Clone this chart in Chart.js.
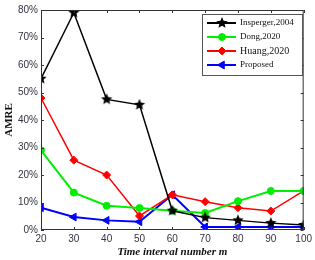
<!DOCTYPE html>
<html lang="en">
<head>
  <meta charset="utf-8" />
  <title>AMRE vs time interval number</title>
  <script src="https://cdn.jsdelivr.net/npm/chart.js@4.4.0/dist/chart.umd.min.js"></script>
  <style>
    html, body { margin: 0; padding: 0; background: #fff; }
    #wrap { width: 315px; height: 260px; }
  </style>
</head>
<body>
  <div id="wrap"><canvas id="chart"></canvas></div>
  <script>
    // values (AMRE in %)
    const intervals = [20, 30, 40, 50, 60, 70, 80, 90, 100];
    const insperger = [55, 79, 47.5, 45.5, 7, 4.5, 3.5, 2.5, 1.8];
    const dong      = [29, 13.6, 8.8, 8, 7, 6.2, 10.5, 14.2, 14.2];
    const huang     = [48, 25.4, 20, 5.1, 12.8, 10.3, 8.1, 6.9, 14.2];
    const proposed  = [8.1, 4.7, 3.5, 3, 12.8, 1.1, 1.1, 1.1, 1.1];
    const seriesNames = ["Insperger,2004", "Dong,2020", "Huang,2020", "Proposed"];
    const yTicks = [0, 10, 20, 30, 40, 50, 60, 70, 80];

    // filled five point star for the black series
    function makeStar(r, color) {
      const c = document.createElement('canvas');
      c.width = c.height = r * 2 + 2;
      const g = c.getContext('2d');
      g.fillStyle = color;
      g.beginPath();
      for (let i = 0; i < 10; i++) {
        const rad = i % 2 === 0 ? r : r * 0.45;
        const a = -Math.PI / 2 + i * Math.PI / 5;
        const px = r + 1 + rad * Math.cos(a), py = r + 1 + rad * Math.sin(a);
        if (i === 0) g.moveTo(px, py); else g.lineTo(px, py);
      }
      g.closePath();
      g.fill();
      return c;
    }
    const starImg = makeStar(6, '#000');

    const serif = "'Liberation Serif', 'Times New Roman', serif";
    const sans = "'Liberation Sans', Arial, sans-serif";

    function series(label, data, color, style, radius, width, rot) {
      return {
        label: label, data: data, borderColor: color, backgroundColor: color,
        borderWidth: width, pointStyle: style, pointRadius: radius,
        pointRotation: rot || 0, pointBorderColor: color, pointBackgroundColor: color,
        pointBorderWidth: 1, tension: 0
      };
    }

    // frame with inward ticks on all four sides + legend box inside the plot
    const framePlugin = {
      id: 'frame',
      afterDraw(chart) {
        const a = chart.chartArea, ctx = chart.ctx;
        const xs = chart.scales.x, ys = chart.scales.y;
        ctx.save();
        ctx.strokeStyle = '#333';
        ctx.lineWidth = 1;
        ctx.strokeRect(a.left + 0.5, a.top + 0.5, a.right - a.left - 1, a.bottom - a.top - 1);
        ctx.beginPath();
        intervals.forEach(v => {
          const px = Math.round(xs.getPixelForValue(v)) + 0.5;
          ctx.moveTo(px, a.bottom); ctx.lineTo(px, a.bottom - 3);
          ctx.moveTo(px, a.top); ctx.lineTo(px, a.top + 3);
        });
        yTicks.forEach(v => {
          const py = Math.round(ys.getPixelForValue(v)) + 0.5;
          ctx.moveTo(a.left, py); ctx.lineTo(a.left + 3, py);
          ctx.moveTo(a.right, py); ctx.lineTo(a.right - 3, py);
        });
        ctx.stroke();

        const bx = 202.5, by = 14.5, bw = 100, bh = 61;
        ctx.fillStyle = '#fff';
        ctx.fillRect(bx, by, bw, bh);
        ctx.strokeStyle = '#555';
        ctx.strokeRect(bx, by, bw, bh);
        const rows = [23, 37, 51, 65];
        chart.data.datasets.forEach((ds, i) => {
          const y = rows[i];
          ctx.strokeStyle = ds.borderColor;
          ctx.fillStyle = ds.backgroundColor;
          ctx.lineWidth = 2;
          ctx.beginPath();
          ctx.moveTo(207, y); ctx.lineTo(236, y);
          ctx.stroke();
          if (ds.pointStyle instanceof HTMLCanvasElement) {
            ctx.drawImage(ds.pointStyle, 222 - ds.pointStyle.width / 2, y - ds.pointStyle.height / 2);
          } else {
            ctx.lineWidth = 1;
            Chart.helpers.drawPoint(ctx, {
              pointStyle: ds.pointStyle, radius: ds.pointRadius, rotation: ds.pointRotation, borderWidth: 1
            }, 222, y);
          }
          ctx.fillStyle = '#111';
          ctx.font = (i === 2 ? '10px ' : '9px ') + serif;
          ctx.textBaseline = 'middle';
          ctx.fillText(ds.label, 240, y);
        });
        ctx.restore();
      }
    };

    new Chart(document.getElementById('chart'), {
      type: 'line',
      data: {
        datasets: [
          series(seriesNames[0], intervals.map((x, i) => ({ x: x, y: insperger[i] })), '#000000', starImg, 6, 1.5),
          series(seriesNames[1], intervals.map((x, i) => ({ x: x, y: dong[i] })), '#00ee00', 'circle', 3.5, 2),
          series(seriesNames[2], intervals.map((x, i) => ({ x: x, y: huang[i] })), '#ff0000', 'rectRot', 4, 1.5),
          series(seriesNames[3], intervals.map((x, i) => ({ x: x, y: proposed[i] })), '#0000ff', 'triangle', 4.5, 2, -90)
        ]
      },
      options: {
        responsive: true,
        maintainAspectRatio: false,
        animation: false,
        layout: { padding: { left: 3, right: 11, top: 10, bottom: 1 } },
        plugins: { legend: { display: false }, tooltip: { enabled: false } },
        scales: {
          x: {
            type: 'linear', min: 20, max: 100,
            afterBuildTicks: s => { s.ticks = intervals.map(v => ({ value: v })); },
            grid: { display: false, drawTicks: false },
            border: { display: false },
            ticks: { color: '#333344', font: { family: sans, size: 10 }, padding: 3, maxRotation: 0 },
            title: { display: true, text: 'Time interval number m', color: '#111',
                     font: { family: serif, size: 11, weight: 'bold', style: 'italic' }, padding: { top: 1, bottom: 0 } },
            afterFit: s => { s.height = 29; }
          },
          y: {
            min: 0, max: 80,
            afterBuildTicks: s => { s.ticks = yTicks.map(v => ({ value: v })); },
            grid: { display: false, drawTicks: false },
            border: { display: false },
            ticks: { color: '#333344', font: { family: sans, size: 10 }, padding: 3, callback: v => v + '%' },
            title: { display: true, text: 'AMRE', color: '#111',
                     font: { family: serif, size: 11, weight: 'bold' }, padding: 0 },
            afterFit: s => { s.width = 38; }
          }
        }
      },
      plugins: [framePlugin]
    });
  </script>
</body>
</html>
